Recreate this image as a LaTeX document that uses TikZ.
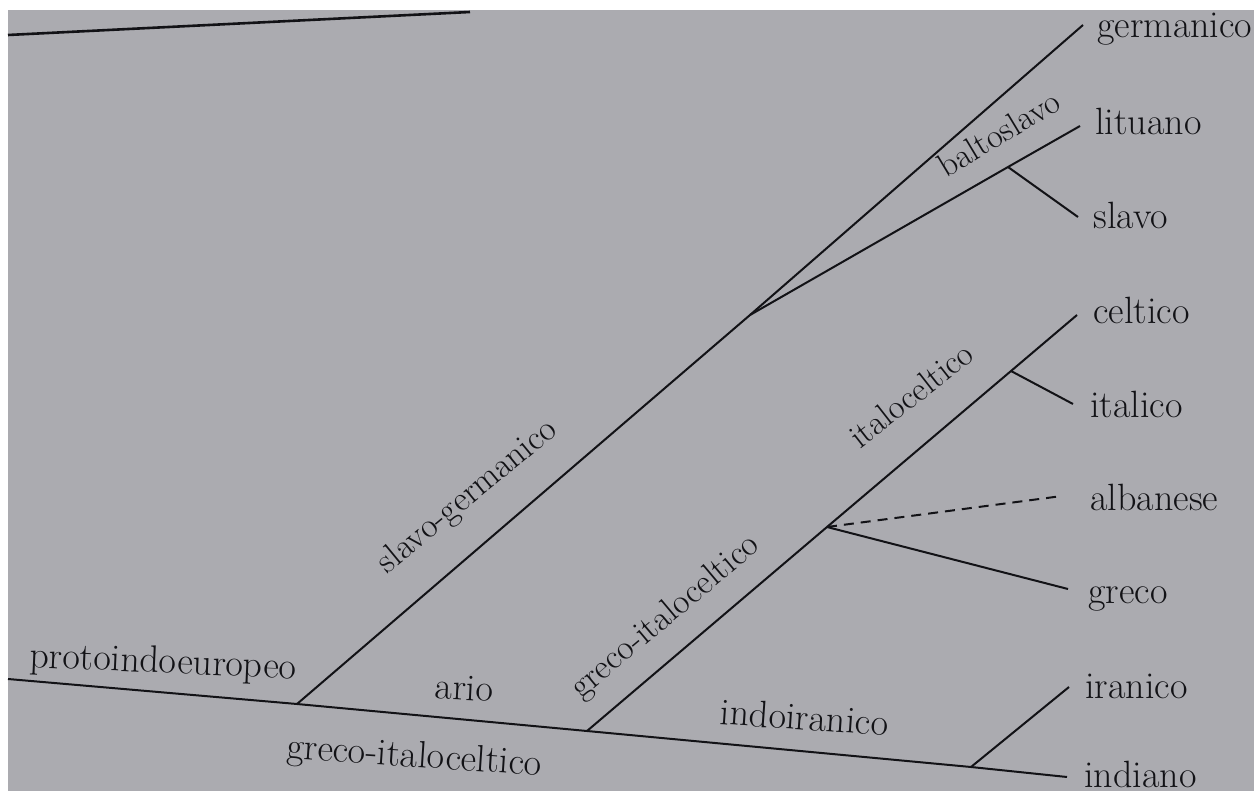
\documentclass[tikz,border=0pt]{standalone}
\usepackage{tikz}
\definecolor{scan}{RGB}{171,171,176}
\definecolor{ink}{RGB}{18,18,22}
\tikzset{
  branch/.style={draw=ink, line width=1pt},
  lbl/.style={text=ink, inner sep=0pt, font=\fontsize{19}{22}\selectfont, text height=0.69em, text depth=0.19em},
  dlbl/.style={lbl, font=\fontsize{17.5}{21}\selectfont},
  leaf/.style={lbl, anchor=west},
}
\begin{document}
\begin{tikzpicture}[x=0.5pt, y=-0.5pt]
\useasboundingbox (0,0) rectangle (1254,791);
\fill[white] (0,0) rectangle (1254,791);
\fill[scan] (8,10) rectangle (1254,791);
% page edge
\coordinate (e1) at (8,35);
\coordinate (e2) at (470,12);
\draw[draw=ink, line width=1.3pt] (e1) -- (e2);

% junction and end coordinates
\coordinate (root) at (8,679);
\coordinate (J1) at (297,704);
\coordinate (J2) at (587,731);
\coordinate (J3) at (971,767);
\coordinate (Eind) at (1067,777);
\coordinate (Jb) at (750,315);
\coordinate (Eger) at (1083,25);
\coordinate (Elit) at (1080,126);
\coordinate (Jbs) at (1008,167);
\coordinate (Esla) at (1078,217);
\coordinate (Ecel) at (1077,315);
\coordinate (Jic) at (1011,371);
\coordinate (Eita) at (1073,404);
\coordinate (Jga) at (827,527);
\coordinate (Ealb) at (1062,496);
\coordinate (Egre) at (1068,589);
\coordinate (Eira) at (1069,687);

% leaf labels
\node[leaf] (germanico) at (1097,33) {germanico};
\node[leaf] (lituano) at (1095,130) {lituano};
\node[leaf] (slavo) at (1093,224) {slavo};
\node[leaf] (celtico) at (1093,319) {celtico};
\node[leaf] (italico) at (1090,412) {italico};
\node[leaf] (albanese) at (1090,505) {albanese};
\node[leaf] (greco) at (1088,598) {greco};
\node[leaf] (iranico) at (1085,693) {iranico};
\node[leaf] (indiano) at (1084,782) {indiano};

% branch labels
\node[dlbl, rotate=39.5] (lsg) at (470,500) {slavo-germanico};
\node[dlbl, rotate=40] (lgi) at (668,620) {greco-italoceltico};
\node[lbl, font=\fontsize{17}{20}\selectfont, rotate=38] (lic) at (915,400) {italoceltico};
\node[lbl, font=\fontsize{17}{20}\selectfont, rotate=31] (lbs) at (1002,139) {baltoslavo};
\node[lbl, rotate=-2.5] (lpie) at (163,668) {protoindoeuropeo};
\node[lbl, rotate=-3] (lario) at (464,695) {ario};
\node[lbl, rotate=-3.8] (lgib) at (414,762) {greco-italoceltico};
\node[lbl, rotate=-4] (lii) at (804,725) {indoiranico};

% branches
\draw[branch] (root) -- (J1) -- (J2) -- (J3) -- (Eind);
\draw[branch] (J1) -- (Jb) -- (Eger);
\draw[branch] (Jb) -- (Jbs) -- (Elit);
\draw[branch] (Jbs) -- (Esla);
\draw[branch] (J2) -- (Jga) -- (Jic) -- (Ecel);
\draw[branch] (Jic) -- (Eita);
\draw[branch, dash pattern=on 5pt off 3.5pt] (Jga) -- (Ealb);
\draw[branch] (Jga) -- (Egre);
\draw[branch] (J3) -- (Eira);
\end{tikzpicture}
\end{document}
